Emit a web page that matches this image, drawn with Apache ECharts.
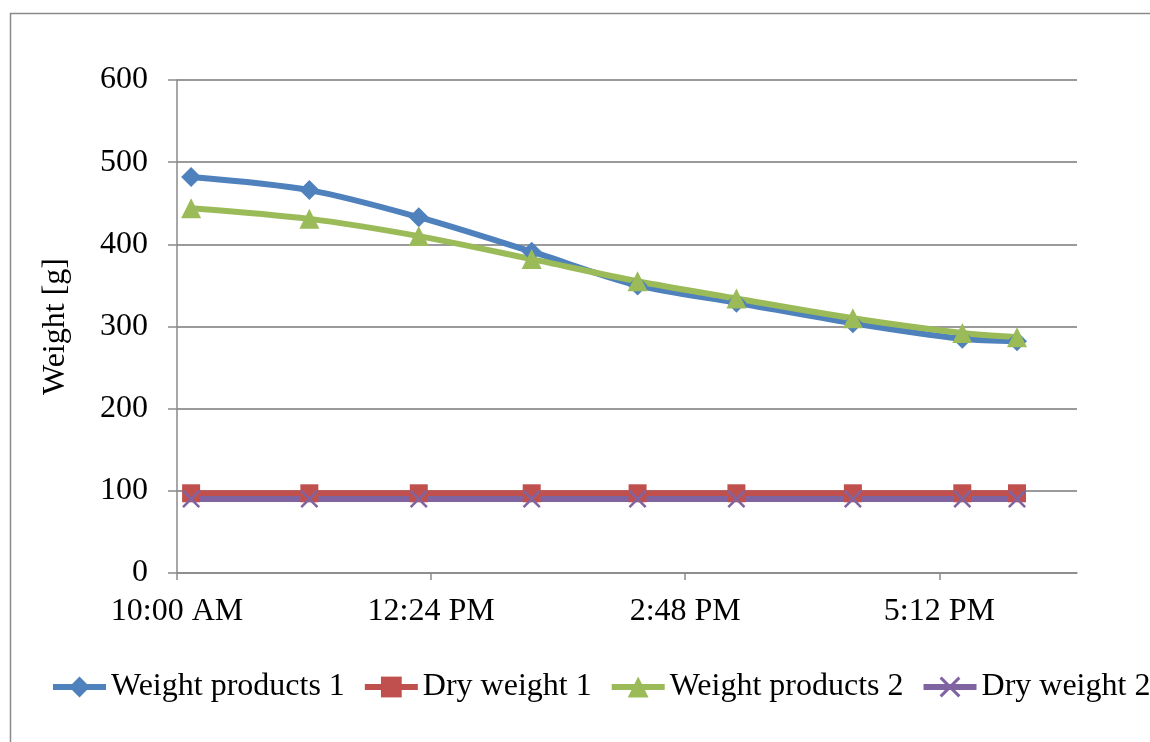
<!DOCTYPE html>
<html>
<head>
<meta charset="utf-8">
<script src="https://cdn.jsdelivr.net/npm/echarts@6/dist/echarts.min.js"></script>
<style>html,body{margin:0;padding:0;background:#fff}#c{width:1150px;height:742px}</style>
</head>
<body>
<div id="c"></div>
<script>
// minutes after 10:00 AM for each measurement
var timesMin = [8, 75, 137, 201, 261, 317, 383, 445, 476];
var weightProducts1 = [482, 466, 433, 391, 350, 329, 304, 285, 282];
var dryWeight1 = [97, 97, 97, 97, 97, 97, 97, 97, 97];
var weightProducts2 = [444, 431, 410, 382, 355, 334, 310, 292, 287];
var dryWeight2 = [90, 90, 90, 90, 90, 90, 90, 90, 90];
var xTickValues = [0, 144, 288, 432];
var xTickLabels = ['10:00 AM', '12:24 PM', '2:48 PM', '5:12 PM'];
var seriesNames = ['Weight products 1', 'Dry weight 1', 'Weight products 2', 'Dry weight 2'];

function pairs(vals) { return timesMin.map(function (t, i) { return [t, vals[i]]; }); }

var FONT = '"Liberation Serif", "Times New Roman", serif';
var crossPath = 'path://M0,1 L1,0 L10,9 L9,10 Z M9,0 L10,1 L1,10 L0,9 Z';

var chart = echarts.init(document.getElementById('c'), null, { renderer: 'canvas' });
function mk(name, data, color, symbol, size) {
  return {
    name: name, type: 'line', data: pairs(data), smooth: 0.3,
    symbol: symbol, symbolSize: size,
    lineStyle: { color: color, width: 6 },
    itemStyle: { color: color },
    emphasis: { disabled: true }
  };
}
chart.setOption({
  backgroundColor: '#fff',
  animation: false,
  graphic: [{ type: 'rect', shape: { x: 10.5, y: 13.5, width: 1300, height: 900 },
    style: { fill: 'none', stroke: '#8a8a8a', lineWidth: 1.5 }, silent: true }],
  grid: { left: 177, right: 73, top: 80, bottom: 169 },
  legend: {
    left: 50, top: 671, width: 1150, padding: 0,
    itemWidth: 53, itemHeight: 26, itemGap: 17,
    lineStyle: { width: 6 },
    textStyle: { fontFamily: FONT, fontSize: 32, color: '#000' },
    data: seriesNames
  },
  xAxis: {
    type: 'value', min: 0, max: 510, interval: 144,
    axisLine: { show: true, onZero: false, lineStyle: { color: '#8a8a8a', width: 1.5 } },
    axisTick: { show: true, length: 7, customValues: xTickValues, lineStyle: { color: '#8a8a8a', width: 1.5 } },
    axisLabel: {
      customValues: xTickValues,
      margin: 23, fontFamily: FONT, fontSize: 32, color: '#000',
      formatter: function (v) { var i = xTickValues.indexOf(v); return i >= 0 ? xTickLabels[i] : ''; }
    },
    splitLine: { show: false }
  },
  yAxis: {
    type: 'value', min: 0, max: 600, interval: 100,
    name: 'Weight [g]', nameLocation: 'middle', nameRotate: 90, nameGap: 105,
    nameTextStyle: { fontFamily: FONT, fontSize: 32, color: '#000' },
    axisLine: { show: true, lineStyle: { color: '#8a8a8a', width: 1.5 } },
    axisTick: { show: true, length: 9, lineStyle: { color: '#8a8a8a', width: 1.5 } },
    axisLabel: { margin: 29, fontFamily: FONT, fontSize: 32, color: '#000' },
    splitLine: { show: true, lineStyle: { color: '#9a9a9a', width: 2 } }
  },
  series: [
    mk(seriesNames[0], weightProducts1, '#4F81BD', 'diamond', 20),
    mk(seriesNames[1], dryWeight1, '#C0504D', 'rect', 18),
    mk(seriesNames[2], weightProducts2, '#9BBB59', 'triangle', 20),
    mk(seriesNames[3], dryWeight2, '#8064A2', crossPath, 18)
  ]
});
</script>
</body>
</html>
